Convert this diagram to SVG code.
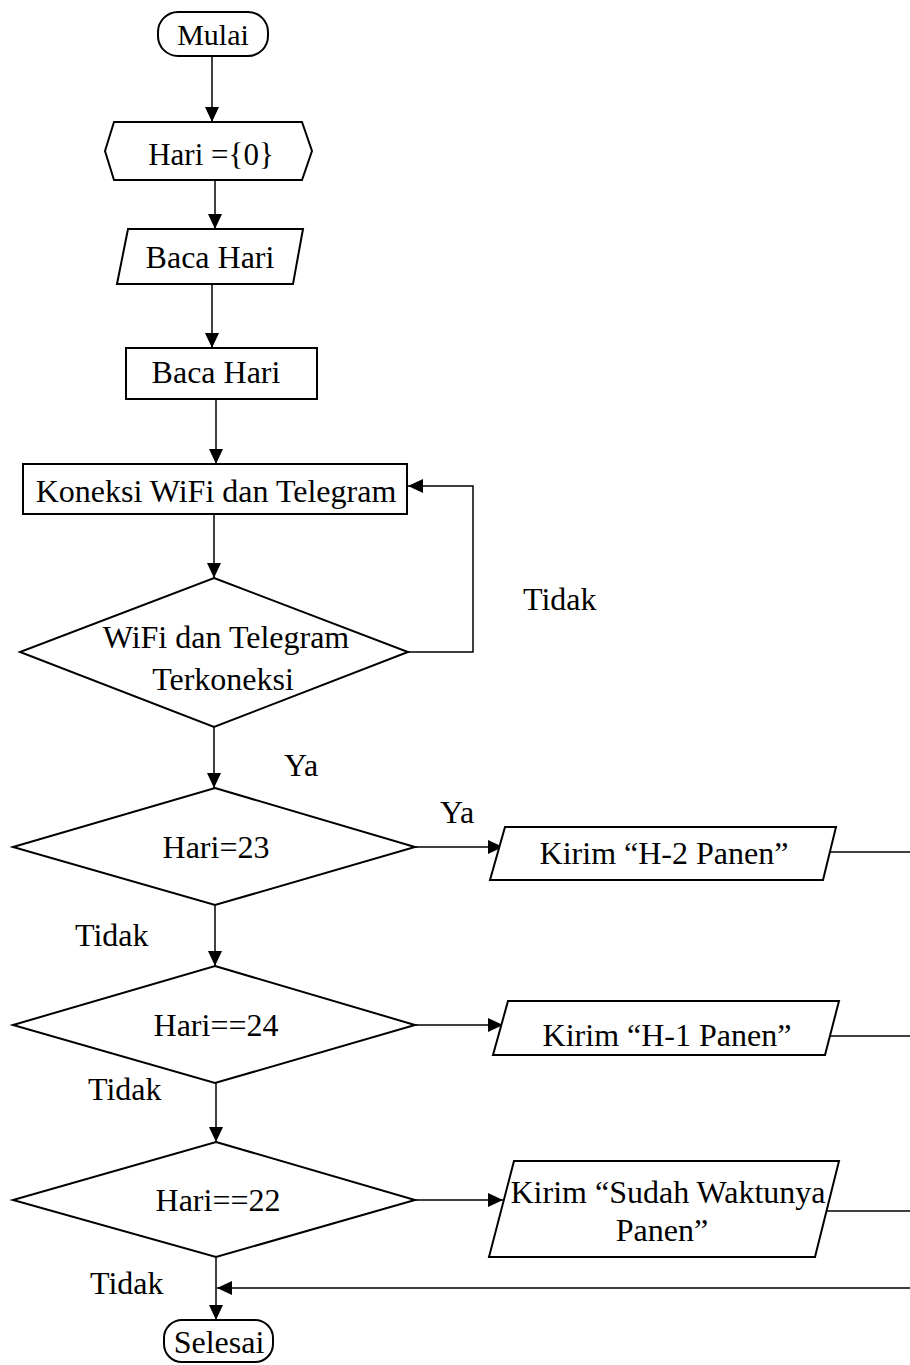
<svg xmlns="http://www.w3.org/2000/svg" width="910" height="1365" viewBox="0 0 910 1365">
  <style>
    .shape { fill: #ffffff; stroke: #000000; stroke-width: 2; }
    .line { fill: none; stroke: #000000; stroke-width: 1.5; }
    .lbl { font-family: "Liberation Serif", "Times New Roman", serif; font-size: 32px; fill: #000000; }
    .mid { text-anchor: middle; }
  </style>
  <defs>
    <marker id="arrow" markerUnits="userSpaceOnUse" markerWidth="16" markerHeight="14" refX="15" refY="7" orient="auto">
      <path d="M0,0 L15,7 L0,14 Z" fill="#000000"/>
    </marker>
  </defs>

  <!-- connectors -->
  <g id="connectors">
    <line class="line" x1="212" y1="56" x2="212" y2="122" marker-end="url(#arrow)"/>
    <line class="line" x1="215" y1="180" x2="215" y2="229" marker-end="url(#arrow)"/>
    <line class="line" x1="212" y1="284" x2="212" y2="348" marker-end="url(#arrow)"/>
    <line class="line" x1="216" y1="399" x2="216" y2="464" marker-end="url(#arrow)"/>
    <line class="line" x1="214" y1="514" x2="214" y2="578" marker-end="url(#arrow)"/>
    <polyline class="line" points="408,652 473,652 473,486 408,486" marker-end="url(#arrow)"/>
    <line class="line" x1="214" y1="727" x2="214" y2="788" marker-end="url(#arrow)"/>
    <line class="line" x1="415" y1="847" x2="503" y2="847" marker-end="url(#arrow)"/>
    <line class="line" x1="215" y1="905" x2="215" y2="966" marker-end="url(#arrow)"/>
    <line class="line" x1="415" y1="1025" x2="503" y2="1025" marker-end="url(#arrow)"/>
    <line class="line" x1="216" y1="1083" x2="216" y2="1142" marker-end="url(#arrow)"/>
    <line class="line" x1="415" y1="1200" x2="503" y2="1200" marker-end="url(#arrow)"/>
    <line class="line" x1="216" y1="1257" x2="216" y2="1320" marker-end="url(#arrow)"/>
    <line class="line" x1="823" y1="852" x2="910" y2="852"/>
    <line class="line" x1="829" y1="1036" x2="910" y2="1036"/>
    <line class="line" x1="825" y1="1211" x2="910" y2="1211"/>
    <line class="line" x1="910" y1="1288" x2="217" y2="1288" marker-end="url(#arrow)"/>
    <text class="lbl" x="523" y="610">Tidak</text>
    <text class="lbl" x="284" y="776">Ya</text>
    <text class="lbl" x="440" y="823">Ya</text>
    <text class="lbl" x="75" y="946">Tidak</text>
    <text class="lbl" x="88" y="1100">Tidak</text>
    <text class="lbl" x="90" y="1294">Tidak</text>
  </g>

  <g id="start">
    <rect class="shape" x="158" y="12" width="110" height="44" rx="20" ry="20"/>
    <text class="lbl mid" x="213" y="45" style="font-size:30px">Mulai</text>
  </g>

  <g id="init-hari">
    <polygon class="shape" points="105,151 114,122 302,122 312,151 302,180 114,180"/>
    <text class="lbl mid" x="211" y="165" style="font-size:31px">Hari ={0}</text>
  </g>

  <g id="input-hari">
    <polygon class="shape" points="128,229 303,229 293,284 117,284"/>
    <text class="lbl mid" x="210" y="268">Baca Hari</text>
  </g>

  <g id="process-hari">
    <rect class="shape" x="126" y="348" width="191" height="51"/>
    <text class="lbl mid" x="216" y="383">Baca Hari</text>
  </g>

  <g id="connect">
    <rect class="shape" x="23" y="464" width="384" height="50"/>
    <text class="lbl mid" x="216" y="502">Koneksi WiFi dan Telegram</text>
  </g>

  <g id="check-connect">
    <polygon class="shape" points="214,578 408,652 214,727 20,652"/>
    <text class="lbl mid" x="226" y="648">WiFi dan Telegram</text>
    <text class="lbl mid" x="223" y="690">Terkoneksi</text>
  </g>

  <g id="check-23">
    <polygon class="shape" points="215,788 415,847 215,905 13,847"/>
    <text class="lbl mid" x="216" y="858">Hari=23</text>
  </g>

  <g id="send-h2">
    <polygon class="shape" points="505,827 836,827 823,880 490,880"/>
    <text class="lbl mid" x="664" y="864">Kirim “H-2 Panen”</text>
  </g>

  <g id="check-24">
    <polygon class="shape" points="215,966 415,1025 215,1083 13,1025"/>
    <text class="lbl mid" x="216" y="1036">Hari==24</text>
  </g>

  <g id="send-h1">
    <polygon class="shape" points="508,1001 839,1001 825,1055 493,1055"/>
    <text class="lbl mid" x="667" y="1046">Kirim “H-1 Panen”</text>
  </g>

  <g id="check-22">
    <polygon class="shape" points="216,1142 415,1200 216,1257 13,1200"/>
    <text class="lbl mid" x="218" y="1211">Hari==22</text>
  </g>

  <g id="send-harvest">
    <polygon class="shape" points="514,1161 839,1161 815,1257 489,1257"/>
    <text class="lbl mid" x="668" y="1203">Kirim “Sudah Waktunya</text>
    <text class="lbl mid" x="662" y="1241">Panen”</text>
  </g>

  <g id="end">
    <rect class="shape" x="164" y="1320" width="109" height="42" rx="18" ry="18"/>
    <text class="lbl mid" x="219" y="1353">Selesai</text>
  </g>
</svg>
